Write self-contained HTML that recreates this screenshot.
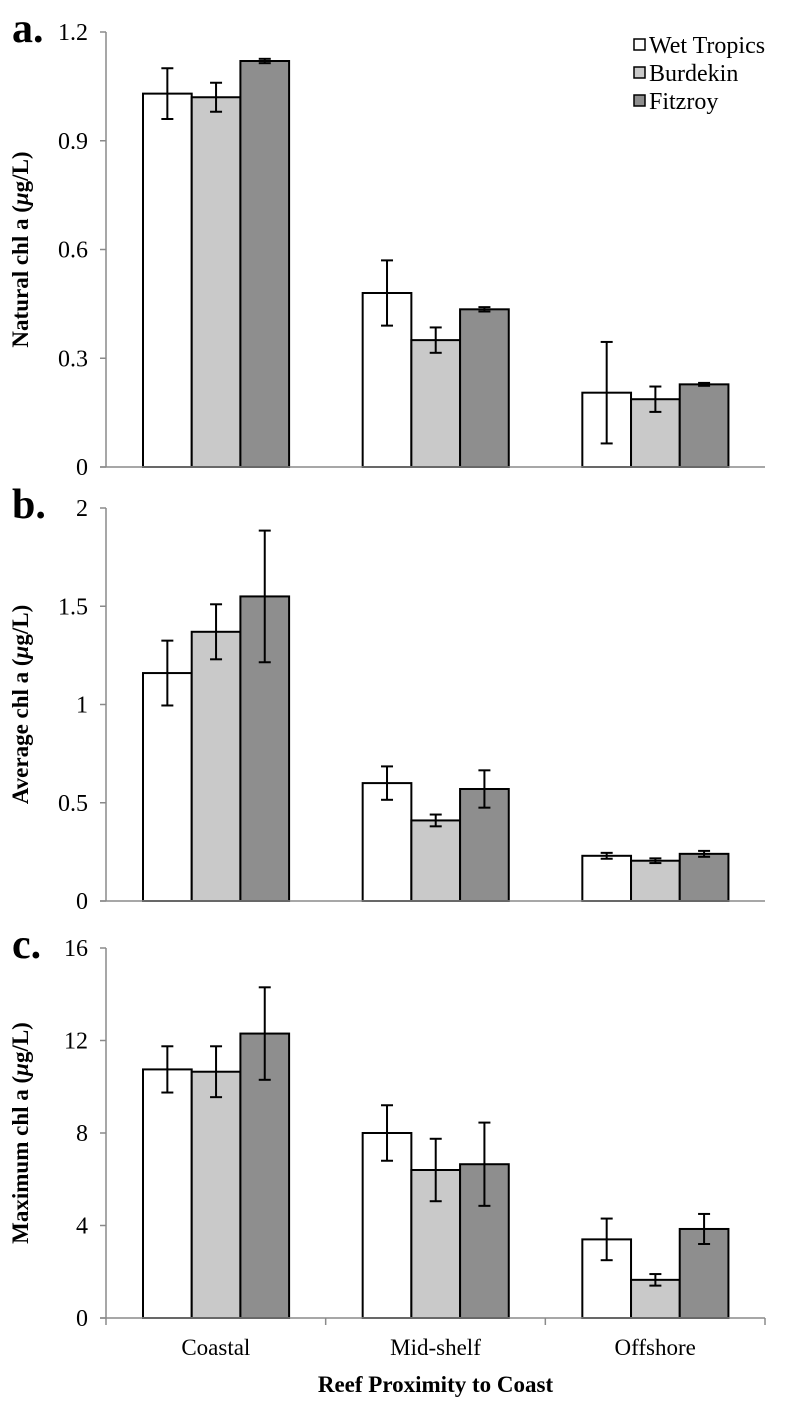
<!DOCTYPE html>
<html><head><meta charset="utf-8"><style>
body{margin:0;background:#fff}
svg{display:block;font-family:"Liberation Serif",serif}
</style></head><body>
<svg id="chart" width="798" height="1408" viewBox="0 0 798 1408" xmlns="http://www.w3.org/2000/svg"></svg>
<script>
const categories = ["Coastal","Mid-shelf","Offshore"];
const seriesNames = ["Wet Tropics","Burdekin","Fitzroy"];
const aValues = [[1.03,0.48,0.205],[1.02,0.35,0.187],[1.12,0.435,0.228]];
const aErrors = [[0.07,0.09,0.14],[0.04,0.035,0.035],[0.006,0.006,0.004]];
const bValues = [[1.16,0.60,0.23],[1.37,0.41,0.205],[1.55,0.57,0.24]];
const bErrors = [[0.165,0.085,0.015],[0.14,0.03,0.012],[0.335,0.095,0.015]];
const cValues = [[10.75,8.0,3.4],[10.65,6.4,1.65],[12.3,6.65,3.85]];
const cErrors = [[1.0,1.2,0.9],[1.1,1.35,0.25],[2.0,1.8,0.65]];
const aTicks = ["0","0.3","0.6","0.9","1.2"];
const bTicks = ["0","0.5","1","1.5","2"];
const cTicks = ["0","4","8","12","16"];

const NS="http://www.w3.org/2000/svg";
const svg=document.getElementById('chart');
function mk(t,a,p){const e=document.createElementNS(NS,t);for(const k in a)e.setAttribute(k,a[k]);(p||svg).appendChild(e);return e;}
const fills=["#ffffff","#c9c9c9","#8e8e8e"];
const X0=106,X1=765,catW=(X1-X0)/3,barW=48.7,off=37;

function panel(id,letter,title,top,bottom,vals,errs,ticks,max,tickBelow){
  const g=mk('g',{});
  
  
  const y=v=>bottom-(v/max)*(bottom-top);
  const lt=mk('text',{x:12,y:top+10,'font-size':42,'font-weight':'bold'},g);lt.textContent=letter;
  
  
  mk('line',{x1:X0,y1:top,x2:X0,y2:bottom,stroke:'#8a8a8a','stroke-width':1.5},g);
  ticks.forEach((t,i)=>{
    const v=max*i/(ticks.length-1);
    mk('line',{x1:X0-6,y1:y(v),x2:X0,y2:y(v),stroke:'#8a8a8a','stroke-width':1.5},g);
    const tx=mk('text',{x:X0-18,y:y(v)+8,'font-size':24,'text-anchor':'end'},g);tx.textContent=t;
    
    
  });
  const at=mk('text',{transform:`translate(28,${(top+bottom)/2}) rotate(-90)`,'font-size':23,'font-weight':'bold','text-anchor':'middle'},g);
  at.innerHTML=title+' (<tspan font-style="italic">μ</tspan>g/L)';
  
  
  for(let s=0;s<3;s++)for(let c=0;c<3;c++){
    const x=X0+c*catW+off+s*barW, v=vals[s][c], e=errs[s][c];
    const r=mk('rect',{x:x,y:y(v),width:barW,height:bottom-y(v),fill:fills[s],stroke:'#000','stroke-width':2},g);
    
    
    const cx=x+barW/2;
    const eb=mk('g',{stroke:'#000','stroke-width':2},g);
    
    
    mk('line',{x1:cx,y1:y(v+e),x2:cx,y2:y(v-e)},eb);
    mk('line',{x1:cx-6,y1:y(v+e),x2:cx+6,y2:y(v+e)},eb);
    mk('line',{x1:cx-6,y1:y(v-e),x2:cx+6,y2:y(v-e)},eb);
  }
  mk('line',{x1:X0-6,y1:bottom,x2:X1,y2:bottom,stroke:'#8a8a8a','stroke-width':1.5},g);
  if(tickBelow){for(let i=0;i<=3;i++)mk('line',{x1:X0+i*catW,y1:bottom,x2:X0+i*catW,y2:bottom+7,stroke:'#8a8a8a','stroke-width':1.5},g);}
}
panel('a','a.','Natural chl a',32,467,aValues,aErrors,aTicks,1.2,false);
panel('b','b.','Average chl a',508,901,bValues,bErrors,bTicks,2,false);
panel('c','c.','Maximum chl a',948,1318,cValues,cErrors,cTicks,16,true);

categories.forEach((c,i)=>{
  const t=mk('text',{x:X0+(i+0.5)*catW,y:1355,'font-size':23,'text-anchor':'middle'});t.textContent=c;
  
  
});
const xt=mk('text',{x:X0+1.5*catW,y:1392,'font-size':23,'font-weight':'bold','text-anchor':'middle'});xt.textContent="Reef Proximity to Coast";



seriesNames.forEach((n,i)=>{
  const g=mk('g',{});
  
  
  const yy=39+i*28;
  mk('rect',{x:634,y:yy,width:11,height:11,fill:fills[i],stroke:'#000','stroke-width':1.5},g);
  const t=mk('text',{x:649,y:yy+14,'font-size':24},g);t.textContent=n;
});
</script>
</body></html>
